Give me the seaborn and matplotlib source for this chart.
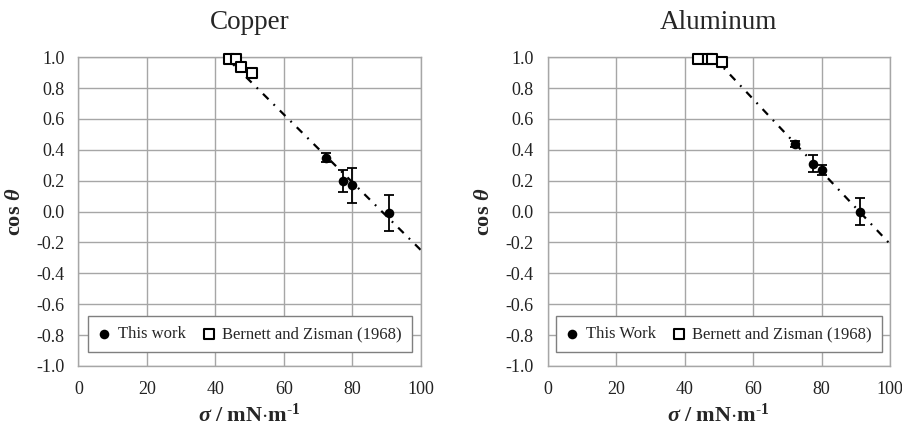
import numpy as np
import pandas as pd
import seaborn as sns
import matplotlib.pyplot as plt

# Copper: this work (sigma in mN/m, cos theta, error)
cu_sigma = [72.3, 77.2, 79.9, 90.8]
cu_cos = [0.35, 0.20, 0.17, -0.01]
cu_err = [0.03, 0.07, 0.115, 0.115]
# Copper: Bernett and Zisman (1968)
cu_bz_sigma = [44.0, 45.9, 47.4, 50.8]
cu_bz_cos = [0.99, 0.99, 0.94, 0.90]
# Copper trend line
cu_line_x = [44.0, 100.0]
cu_line_y = [0.98, -0.25]

# Aluminum: this work
al_sigma = [72.4, 77.5, 80.2, 91.1]
al_cos = [0.44, 0.31, 0.27, 0.00]
al_err = [0.02, 0.056, 0.035, 0.089]
# Aluminum: Bernett and Zisman (1968)
al_bz_sigma = [44.0, 46.9, 47.9, 50.9]
al_bz_cos = [0.99, 0.99, 0.99, 0.97]
# Aluminum trend line
al_line_x = [48.5, 100.0]
al_line_y = [1.0, -0.21]

titles = ['Copper', 'Aluminum']
legend_work = ['This work', 'This Work']
legend_bz = 'Bernett and Zisman (1968)'
x_ticks = [0, 20, 40, 60, 80, 100]
y_ticks = [-1.0, -0.8, -0.6, -0.4, -0.2, 0.0, 0.2, 0.4, 0.6, 0.8, 1.0]

sns.set_style('white')
plt.rcParams['font.family'] = ['Liberation Serif', 'DejaVu Serif']
plt.rcParams['mathtext.fontset'] = 'custom'
plt.rcParams['mathtext.rm'] = 'Liberation Serif'
plt.rcParams['mathtext.it'] = 'Liberation Serif:italic'
plt.rcParams['mathtext.bf'] = 'Liberation Serif:bold'
plt.rcParams['mathtext.bfit'] = 'Liberation Serif:bold:italic'

fig = plt.figure(figsize=(9.02, 4.26), dpi=100)
ax_cu = fig.add_axes([0.087, 0.141, 0.3797, 0.7246])
ax_al = fig.add_axes([0.607, 0.141, 0.3797, 0.7246])

panels = [
    (ax_cu, cu_sigma, cu_cos, cu_err, cu_bz_sigma, cu_bz_cos, cu_line_x, cu_line_y),
    (ax_al, al_sigma, al_cos, al_err, al_bz_sigma, al_bz_cos, al_line_x, al_line_y),
]

grid_col = '#a6a6a6'

for i, (ax, sx, sy, se, bx, by, lx, ly) in enumerate(panels):
    # trend line
    sns.lineplot(x=lx, y=ly, ax=ax, color='black', linewidth=1.6,
                 zorder=2, legend=False)
    ax.lines[-1].set_dashes([3.5, 3.2, 0.8, 3.2])

    # error bars
    ax.errorbar(sx, sy, yerr=se, fmt='none', ecolor='black', elinewidth=1.3,
                capsize=3.5, capthick=1.3, zorder=3)

    # this work
    sns.scatterplot(x=sx, y=sy, ax=ax, marker='o', s=48, color='black',
                    edgecolor='black', linewidth=0, zorder=4,
                    label=legend_work[i])
    # Bernett and Zisman
    sns.scatterplot(x=bx, y=by, ax=ax, marker='s', s=42, facecolor='white',
                    edgecolor='black', linewidth=1.5, zorder=5,
                    label=legend_bz, clip_on=False)

    ax.set_xlim(0, 100)
    ax.set_ylim(-1.0, 1.0)
    ax.set_xticks(x_ticks)
    ax.set_yticks(y_ticks)
    ax.set_yticklabels([f'{v:.1f}' for v in y_ticks])
    ax.grid(True, color=grid_col, linewidth=1.0)
    ax.set_axisbelow(True)
    for sp in ax.spines.values():
        sp.set_color(grid_col)
        sp.set_linewidth(1.0)
    ax.tick_params(axis='both', length=0, labelsize=13, colors='#222222')
    ax.tick_params(axis='x', pad=11)
    ax.tick_params(axis='y', pad=10)

    ax.set_title(titles[i], fontsize=19.5, pad=20)
    ax.set_xlabel(r'$\mathbfit{\sigma}\ \mathbf{/\ mN{\cdot}m}^{\mathbf{\text{-}1}}$',
                  fontsize=16, labelpad=4)
    ax.set_ylabel(r'$\mathbf{cos}\ \mathbfit{\theta}$', fontsize=16,
                  labelpad=8)

    leg = ax.legend(loc='lower center', bbox_to_anchor=(0.5, 0.045), ncol=2,
                    fontsize=12, frameon=True, fancybox=False,
                    handlelength=0.8, handletextpad=0.4, columnspacing=1.0,
                    borderpad=0.6, borderaxespad=0)
    leg.get_frame().set_edgecolor('#7f7f7f')
    leg.get_frame().set_linewidth(1.0)
    leg.get_frame().set_alpha(1)

fig.savefig('out.png', dpi=100)
